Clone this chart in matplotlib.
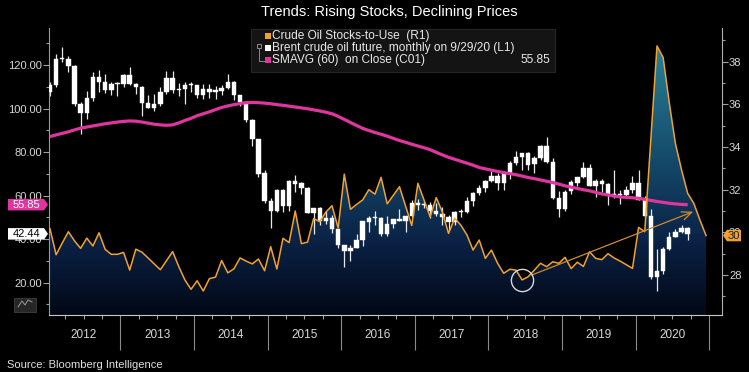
import numpy as np
import matplotlib.pyplot as plt
import matplotlib.transforms as mtransforms
from matplotlib.colors import LinearSegmentedColormap
from matplotlib.patches import Rectangle, Polygon
from matplotlib.lines import Line2D

W, H = 749, 372

years = ['2012', '2013', '2014', '2015', '2016', '2017', '2018', '2019', '2020']

# Brent crude oil future, monthly candles Jan 2012 - Sep 2020 (left axis)
brent_open = [107.4, 111.0, 122.7, 122.9, 119.5, 101.9, 97.8, 104.9, 114.6, 112.4, 108.7, 111.2,
              111.1, 115.6, 111.4, 110.0, 102.4, 100.4, 102.2, 107.7, 114.0, 108.4, 108.8, 110.9,
              110.8, 106.4, 109.1, 107.8, 108.1, 109.4, 112.4, 106.0, 103.2, 94.7, 85.9, 70.2,
              57.3, 53.0, 62.6, 55.1, 66.8, 65.6, 63.6, 52.2, 54.2, 48.4, 49.6, 44.6,
              37.3, 34.7, 36.0, 39.6, 48.1, 49.7, 49.7, 42.5, 47.0, 49.1, 48.3, 50.5,
              56.8, 55.7, 55.6, 52.8, 51.7, 50.3, 47.9, 52.7, 52.4, 57.5, 61.4, 63.6,
              66.9, 69.1, 65.8, 70.3, 75.2, 77.6, 79.4, 74.3, 77.4, 82.7, 75.5, 58.7,
              53.8, 61.9, 66.0, 68.4, 72.8, 64.5, 66.6, 65.2, 60.4, 60.8, 60.2, 62.4,
              66.0, 58.2, 50.5, 22.7, 25.3, 35.3, 41.2, 43.3, 45.3]
brent_high = [112.0, 125.0, 128.4, 124.0, 119.9, 103.0, 108.0, 117.0, 117.9, 116.0, 112.0, 112.0,
              116.0, 119.2, 111.8, 110.5, 106.0, 106.5, 110.0, 117.3, 117.3, 111.9, 112.0, 112.4,
              110.9, 111.5, 111.1, 110.4, 110.6, 115.7, 112.8, 106.1, 103.3, 95.3, 86.2, 71.9,
              59.0, 63.0, 63.0, 67.0, 69.6, 66.3, 63.8, 54.2, 54.8, 53.1, 50.9, 44.7,
              37.5, 37.5, 42.5, 48.5, 50.5, 52.9, 50.3, 50.8, 49.3, 53.7, 50.7, 57.9,
              58.4, 57.5, 56.9, 56.7, 54.7, 51.3, 52.9, 53.7, 59.5, 61.7, 64.7, 67.1,
              71.3, 70.5, 71.2, 75.9, 80.5, 79.8, 79.9, 78.3, 83.1, 86.7, 77.2, 62.2,
              62.7, 67.1, 68.7, 75.6, 74.5, 67.6, 67.5, 65.8, 71.9, 62.4, 64.6, 68.9,
              71.8, 59.8, 53.9, 35.5, 36.3, 43.4, 44.7, 46.5, 45.8]
brent_low = [105.7, 109.9, 121.6, 116.9, 101.2, 88.5, 95.0, 103.5, 107.6, 107.0, 106.0, 105.6,
             110.0, 111.0, 106.6, 96.8, 100.1, 99.0, 101.3, 106.9, 107.3, 105.7, 102.2, 107.8,
             104.8, 104.6, 104.7, 104.6, 106.0, 108.8, 103.7, 101.2, 94.0, 82.6, 68.6, 56.5,
             45.2, 52.5, 52.5, 53.0, 61.6, 60.6, 51.9, 42.2, 46.6, 47.0, 42.6, 36.0,
             27.1, 30.0, 35.8, 36.8, 43.4, 46.6, 41.5, 41.5, 44.9, 48.4, 43.1, 50.2,
             53.6, 54.2, 49.7, 50.8, 46.6, 44.4, 46.4, 50.2, 52.1, 55.1, 60.4, 61.8,
             66.1, 62.5, 62.8, 67.6, 74.2, 71.9, 71.8, 70.3, 76.2, 74.9, 58.4, 50.0,
             52.9, 60.6, 64.5, 68.1, 64.5, 59.5, 61.5, 55.9, 58.7, 56.2, 59.7, 61.0,
             57.9, 49.9, 21.7, 16.0, 24.2, 35.1, 40.9, 42.8, 39.4]
brent_close = [110.98, 122.66, 122.88, 119.47, 101.87, 97.80, 104.92, 114.57, 112.39, 108.70, 111.23, 111.11,
               115.55, 111.38, 110.02, 102.37, 100.39, 102.16, 107.70, 114.01, 108.37, 108.84, 110.86, 110.80,
               106.40, 109.07, 107.76, 108.07, 109.41, 112.36, 106.02, 103.19, 94.67, 85.86, 70.15, 57.33,
               52.99, 62.58, 55.11, 66.78, 65.56, 63.59, 52.21, 54.15, 48.37, 49.56, 44.61, 37.28,
               34.74, 35.97, 39.60, 48.13, 49.69, 49.68, 42.46, 47.04, 49.06, 48.30, 50.47, 56.82,
               55.70, 55.59, 52.83, 51.73, 50.31, 47.92, 52.65, 52.38, 57.54, 61.37, 63.57, 66.87,
               69.05, 65.78, 70.27, 75.17, 77.59, 79.44, 74.25, 77.42, 82.72, 75.47, 58.71, 53.80,
               61.89, 66.03, 68.39, 72.80, 64.49, 66.55, 65.17, 60.43, 60.78, 60.23, 62.43, 66.00,
               58.16, 50.52, 22.74, 25.27, 35.33, 41.15, 43.30, 45.28, 42.44]

# SMAVG (60) on Close, Jan 2012 - Sep 2020 (left axis)
sma60 = [87.1, 87.9, 88.6, 89.3, 90.2, 91.0, 91.5, 92.0, 92.5, 93.0, 93.4, 93.8,
         94.1, 94.3, 94.2, 93.8, 93.3, 92.8, 92.5, 92.3, 92.5, 93.4, 94.5, 95.5,
         96.7, 97.6, 98.5, 99.5, 100.5, 101.2, 101.8, 102.3, 102.7, 102.8, 102.7, 102.5,
         102.2, 101.8, 101.5, 101.1, 100.7, 100.3, 99.9, 99.4, 98.9, 98.3, 97.6, 96.4,
         95.0, 93.6, 92.2, 90.9, 89.9, 89.0, 88.2, 87.3, 86.3, 85.3, 84.5, 83.6,
         82.8, 82.0, 81.1, 79.9, 78.7, 77.6, 76.7, 75.8, 74.9, 74.0, 72.9, 72.3,
         71.7, 71.1, 70.6, 70.1, 69.6, 69.0, 68.3, 67.8, 67.2, 66.6, 66.0, 65.3,
         64.5, 63.9, 63.3, 62.7, 62.2, 61.5, 60.8, 60.3, 59.8, 59.4, 59.2, 59.0,
         58.8, 58.3, 57.8, 57.3, 56.9, 56.5, 56.2, 55.95, 55.85]

# Crude oil stocks-to-use, Jan 2012 - Dec 2020 (right axis)
stocks_to_use = [30.17, 28.95, 29.50, 30.03, 29.60, 29.25, 29.73, 29.36, 29.98, 29.20, 28.97, 28.97,
                 29.06, 28.23, 29.21, 29.07, 28.80, 28.52, 28.25, 28.67, 29.10, 28.40, 27.77, 27.33,
                 27.73, 27.25, 27.83, 27.90, 28.68, 28.10, 28.29, 28.80, 28.65, 28.52, 28.75, 28.20,
                 29.33, 28.28, 29.72, 29.52, 31.00, 29.47, 29.54, 30.65, 30.50, 30.95, 31.25, 30.20,
                 32.73, 31.08, 31.31, 31.52, 32.00, 31.79, 32.58, 31.34, 31.74, 32.14, 31.23, 30.32,
                 32.30, 31.52, 30.73, 31.63, 30.95, 29.95, 30.66, 30.34, 29.88, 29.17, 29.64, 28.78,
                 29.17, 28.55, 28.08, 28.27, 28.23, 27.77, 27.92, 28.23, 28.55, 28.39, 28.62, 28.55,
                 28.83, 28.30, 28.60, 28.40, 29.09, 28.78, 28.72, 29.00, 28.80, 28.65, 28.48, 28.31,
                 30.23, 30.03, 34.40, 38.74, 38.20, 36.08, 34.17, 32.93, 31.83, 31.36, 30.58, 29.85]

# annotation: circled low and trend arrow (month index, stocks-to-use)
circle_pt = (77, 27.77)
arrow_start = (78.6, 28.0)
arrow_end = (104.9, 30.97)

PINK = '#e0359e'
ORANGE = '#f2a22c'
TXT = '#d8d8d8'
SANS = ['Liberation Sans', 'DejaVu Sans']
NARROW = ['Liberation Sans Narrow', 'Liberation Sans', 'DejaVu Sans']

fig = plt.figure(figsize=(W / 100, H / 100), dpi=100, facecolor='black')
ax = fig.add_axes([49 / W, 1 - 315 / H, (722 - 49) / W, (315 - 28) / H])
ax2 = ax.twinx()   # fill + right ticks
ax3 = ax.twinx()   # orange line on top
ax2.set_zorder(1)
ax.set_zorder(2)
ax3.set_zorder(3)
ax.patch.set_visible(False)

x = np.arange(len(brent_close))
xs = np.arange(len(stocks_to_use))
xlim = (-0.16, 109.6)
ylim_l = (5.16, 137.0)
ylim_r = (26.125, 39.58)

# gradient area under stocks-to-use
cmap = LinearSegmentedColormap.from_list('area', [(0.0, '#020816'), (0.25, '#0a2144'),
                                                  (0.51, '#134566'), (1.0, '#2b8aa0')])
grad = np.linspace(0, 1, 256).reshape(-1, 1)
im = ax2.imshow(grad, extent=[xlim[0], xlim[1], ylim_r[0], ylim_r[1]], origin='lower',
                aspect='auto', cmap=cmap, zorder=1)
verts = [(xs[0], ylim_r[0])] + list(zip(xs, stocks_to_use)) + [(xs[-1], ylim_r[0])]
clip = Polygon(verts, closed=True, facecolor='none', edgecolor='none')
ax2.add_patch(clip)
im.set_clip_path(clip)

# candles
o = np.array(brent_open)
c = np.array(brent_close)
ax.vlines(x, brent_low, brent_high, color='#e8e8e8', lw=0.9, zorder=2)
ax.bar(x, np.maximum(np.abs(c - o), 0.5), bottom=np.minimum(o, c), width=0.72,
       color='white', edgecolor='white', linewidth=0.3, zorder=3)
ax.plot(np.arange(len(sma60)), sma60, color=PINK, lw=2.3, zorder=4, solid_capstyle='butt')

# stocks-to-use line, circle and arrow
ax3.plot(xs, stocks_to_use, color=ORANGE, lw=1.1, zorder=3)
ax3.plot(*circle_pt, marker='o', ms=16, mfc='none', mec='#d8d8d8', mew=1.0, zorder=4)
ax3.annotate('', xy=arrow_end, xytext=arrow_start,
             arrowprops=dict(arrowstyle='->,head_length=0.7,head_width=0.3',
                             color='#d08a30', lw=0.9, shrinkA=0, shrinkB=0))

for a in (ax, ax2, ax3):
    a.set_xlim(*xlim)
ax.set_ylim(*ylim_l)
ax2.set_ylim(*ylim_r)
ax3.set_ylim(*ylim_r)

# left axis
ax.set_yticks([20, 40, 60, 80, 100, 120])
ax.set_yticklabels(['%.2f' % v for v in [20, 40, 60, 80, 100, 120]], family=SANS)
ax.set_yticks(np.arange(10, 131, 20), minor=True)
ax.tick_params(axis='y', which='major', direction='out', length=4, width=0.8, color='#a0a0a0',
               labelcolor=TXT, labelsize=8, pad=1)
ax.tick_params(axis='y', which='minor', direction='out', length=2.5, width=0.8, color='#a0a0a0')

# right axis
ax2.set_yticks(np.arange(28, 39, 2))
ax2.set_yticklabels([str(v) for v in range(28, 39, 2)], family=SANS)
ax2.set_yticks(np.arange(27, 40, 2), minor=True)
ax2.tick_params(axis='y', which='major', direction='out', length=4, width=0.8, color='#a0a0a0',
                labelcolor=TXT, labelsize=8, pad=1)
ax2.tick_params(axis='y', which='minor', direction='out', length=2.5, width=0.8, color='#a0a0a0')
ax3.set_yticks([])

# bottom axis: year separators, quarter ticks, year labels
ax.set_xticks(np.arange(11.5, 108, 12))
ax.set_xticklabels([])
quarters = [q for q in np.arange(2.5, 109, 3) if (q + 0.5) % 12 != 0]
ax.set_xticks(quarters, minor=True)
ax.tick_params(axis='x', which='major', direction='out', length=25, width=0.8, color='#8a8a8a')
ax.tick_params(axis='x', which='minor', direction='out', length=3, width=0.8, color='#a0a0a0')
trans = mtransforms.blended_transform_factory(ax.transData, ax.transAxes)
for i, yr in enumerate(years):
    ax.text(5.5 + 12 * i, -20 / 287, yr, transform=trans, ha='center', va='center',
            color=TXT, fontsize=8.5, family=NARROW)

for a in (ax, ax2, ax3):
    for s in a.spines.values():
        s.set_visible(False)
ax.spines['left'].set_visible(True)
ax.spines['left'].set_color('#9a9a9a')
ax.spines['bottom'].set_visible(True)
ax.spines['bottom'].set_color('#c8c8c8')
ax2.spines['right'].set_visible(True)
ax2.spines['right'].set_color('#b0b0b0')

ident = mtransforms.IdentityTransform()


def tag(axis, value, x0, x1, text, fc, tc, point):
    yd = axis.transData.transform((0, value))[1]
    h = 11.5
    if point == 'right':
        pts = [(x0, yd - h / 2), (x1 - 4, yd - h / 2), (x1, yd), (x1 - 4, yd + h / 2), (x0, yd + h / 2)]
    else:
        pts = [(x0, yd), (x0 + 4, yd - h / 2), (x1, yd - h / 2), (x1, yd + h / 2), (x0 + 4, yd + h / 2)]
    fig.add_artist(Polygon(pts, closed=True, facecolor=fc, edgecolor='none', transform=ident, zorder=10))
    cx = (x0 + x1) / 2 + (-1.5 if point == 'right' else 1.5)
    fig.text(cx / W, yd / H, text, ha='center', va='center', color=tc, fontsize=8,
             family=SANS, zorder=11)


tag(ax, sma60[-1], 8, 48, '%.2f' % sma60[-1], PINK, 'white', 'right')
tag(ax, brent_close[-1], 8, 48, '%.2f' % brent_close[-1], 'white', 'black', 'right')
tag(ax2, stocks_to_use[-1], 723, 741, '%d' % round(stocks_to_use[-1]), ORANGE, '#1a1a1a', 'left')


# legend box
def fx(px):
    return px / W


def fy(py):
    return 1 - py / H


fig.add_artist(Rectangle((fx(251.5), fy(71.5)), (555 - 251.5) / W, (71.5 - 28.5) / H,
                         transform=fig.transFigure, facecolor='#141414', edgecolor='#262626',
                         lw=0.8, zorder=8))
rows = [(36, ORANGE, 'Crude Oil Stocks-to-Use  (R1)'),
        (48, 'white', 'Brent crude oil future, monthly on 9/29/20 (L1)'),
        (60, PINK, 'SMAVG (60)  on Close (C01)')]
for py, col, label in rows:
    fig.add_artist(Rectangle((fx(264.5), fy(py + 3)), 6 / W, 6 / H, transform=fig.transFigure,
                             facecolor=col, edgecolor='none', zorder=9))
    fig.text(fx(272.5), fy(py), label, ha='left', va='center', color='#e8e8e8', fontsize=8.6,
             family=SANS, zorder=9)
fig.text(fx(550), fy(60), '%.2f' % sma60[-1], ha='right', va='center', color='#e8e8e8',
         fontsize=8.6, family=SANS, zorder=9)
fig.add_artist(Rectangle((fx(256.5), fy(47.5)), 4 / W, 4 / H, transform=fig.transFigure,
                         facecolor='none', edgecolor='#8a8a8a', lw=0.7, zorder=9))
fig.add_artist(Line2D([fx(258.5), fx(258.5), fx(263.5)], [fy(47.5), fy(61), fy(61)],
                      transform=fig.transFigure, color='#8a8a8a', lw=0.7, zorder=9))

# small chart icon, bottom-left
fig.add_artist(Rectangle((fx(14), fy(311.5)), 22 / W, 13.5 / H, transform=fig.transFigure,
                         facecolor='#262626', edgecolor='#3a3a3a', lw=0.7, zorder=9))
fig.add_artist(Line2D([fx(18), fx(22), fx(25), fx(28), fx(32)],
                      [fy(307), fy(301), fy(305), fy(300), fy(302)],
                      transform=fig.transFigure, color='#9a9a9a', lw=0.7, zorder=10))

fig.text(0.52, fy(12), 'Trends: Rising Stocks, Declining Prices', ha='center', va='center',
         color='white', fontsize=10.5, family=SANS)
fig.text(fx(7), fy(365), 'Source: Bloomberg Intelligence', ha='left', va='center',
         color='#e0e0e0', fontsize=8, family=NARROW)

fig.savefig('out.png', dpi=100, facecolor='black')
